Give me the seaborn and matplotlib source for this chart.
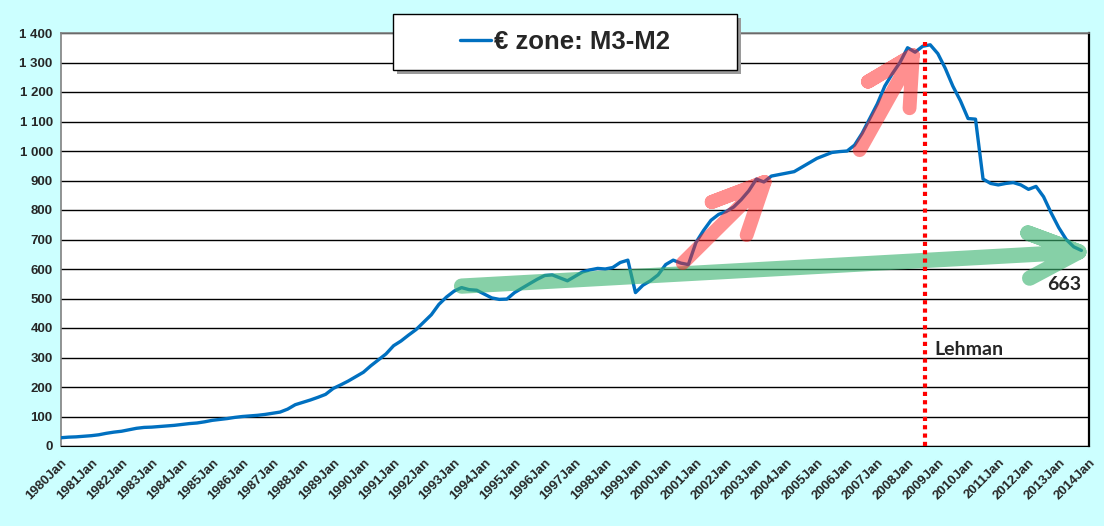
import pandas as pd
import matplotlib
matplotlib.use("Agg")
import matplotlib.pyplot as plt
import matplotlib.dates as mdates
from matplotlib.patches import Rectangle
import seaborn as sns

sns.set_style("white")
plt.rcParams['font.family'] = ['Liberation Sans', 'DejaVu Sans']

# ------------------ Data (quarterly: Jan, Apr, Jul, Oct) ------------------
years = list(range(1980, 2014))
m3_m2 = [
    28, 30, 31, 33,          # 1980
    35, 38, 43, 47,          # 1981
    50, 55, 60, 63,          # 1982
    64, 66, 68, 70,          # 1983
    73, 76, 78, 82,          # 1984
    87, 90, 93, 97,          # 1985
    100, 102, 104, 107,      # 1986
    111, 115, 125, 140,      # 1987
    148, 156, 165, 175,      # 1988
    195, 207, 220, 235,      # 1989
    250, 272, 292, 312,      # 1990
    340, 356, 376, 395,      # 1991
    420, 445, 480, 505,      # 1992
    525, 537, 530, 528,      # 1993
    515, 502, 497, 498,      # 1994
    520, 535, 550, 565,      # 1995
    578, 580, 570, 560,      # 1996
    575, 590, 597, 602,      # 1997
    600, 605, 622, 630,      # 1998
    520, 545, 560, 580,      # 1999
    615, 630, 620, 615,      # 2000
    690, 730, 765, 785,      # 2001
    795, 810, 835, 865,      # 2002
    905, 895, 915, 920,      # 2003
    925, 930, 945, 960,      # 2004
    975, 985, 995, 998,      # 2005
    1000, 1020, 1060, 1110,  # 2006
    1160, 1220, 1262, 1300,  # 2007
    1350, 1335, 1355, 1360,  # 2008
    1330, 1280, 1220, 1170,  # 2009
    1110, 1108, 905, 890,    # 2010
    885, 890, 893, 885,      # 2011
    870, 880, 845, 790,      # 2012
    740, 700, 675, 663,      # 2013
]
dates = pd.date_range(f"{years[0]}-01-01", periods=len(m3_m2), freq="QS")
df = pd.DataFrame({"Date": dates, "Value": m3_m2})

lehman_date = pd.Timestamp("2008-08-01")
last_value = m3_m2[-1]

# annotation arrows (date, value): shaft start, tip, arm1 start, arm2 start
green_arrow = [("1993-04-01", 542), ("2013-09-01", 658), ("2011-12-25", 722), ("2012-01-15", 569)]
red_arrow_1 = [("2000-07-25", 620), ("2003-04-10", 895), ("2001-07-10", 827), ("2002-09-05", 715)]
red_arrow_2 = [("2006-06-01", 1003), ("2008-03-05", 1325), ("2006-09-10", 1235), ("2008-01-25", 1145)]

# ------------------ Plot ------------------
fig = plt.figure(figsize=(11.04, 5.26), dpi=100, facecolor="#CCFFFF")
ax = fig.add_axes([61 / 1104, 80 / 526, 1028 / 1104, 413 / 526])
ax.set_facecolor("white")

sns.lineplot(data=df, x="Date", y="Value", ax=ax, color="#0070C0",
             linewidth=2.4, label="€ zone: M3-M2", zorder=3)


def draw_arrow(pts, color, lw, alpha):
    # one path so the translucent stroke is not doubled where segments meet
    start, tip, a1, a2 = [(pd.Timestamp(d), v) for d, v in pts]
    path = [start, tip, a1, tip, a2]
    ax.plot([p[0] for p in path], [p[1] for p in path], color=color, lw=lw,
            alpha=alpha, solid_capstyle="round", solid_joinstyle="round", zorder=4)


draw_arrow(green_arrow, "#3CB371", 11, 0.62)
draw_arrow(red_arrow_1, "#FF2020", 10, 0.5)
draw_arrow(red_arrow_2, "#FF2020", 10, 0.5)

# Lehman line
ax.plot([lehman_date, lehman_date], [0, 1368], color="red", lw=3,
        linestyle=(0, (1, 1)), zorder=5)
ax.text(pd.Timestamp("2008-11-20"), 308, "Lehman", fontsize=14,
        fontweight="bold", family=["Lato", "DejaVu Sans"], ha="left", va="baseline")
ax.text(pd.Timestamp("2013-10-01"), 528, f"{last_value}", fontsize=14,
        fontweight="bold", family=["Lato", "DejaVu Sans"], ha="right", va="baseline")

# axes
ax.set_xlim(pd.Timestamp("1980-01-01"), pd.Timestamp("2014-01-01"))
ax.set_ylim(0, 1400)
ax.set_yticks(range(0, 1401, 100))
ax.set_yticklabels([f"{v:,}".replace(",", " ") for v in range(0, 1401, 100)],
                   fontsize=9.5, fontweight="bold")
ax.yaxis.grid(True, color="black", linewidth=1)
ax.set_axisbelow(True)
ax.tick_params(axis="y", length=0, pad=6)

ax.xaxis.set_major_locator(mdates.YearLocator())
ax.xaxis.set_major_formatter(mdates.DateFormatter("%Y%b"))
ax.xaxis.set_minor_locator(mdates.MonthLocator())
ax.tick_params(axis="x", which="both", direction="out", length=4, width=0.8, color="black")
plt.setp(ax.get_xticklabels(), rotation=45, ha="right", rotation_mode="anchor",
         fontsize=9.5, fontweight="bold")
ax.set_xlabel("")
ax.set_ylabel("")

for side in ("left", "top"):
    ax.spines[side].set_color("#808080")
    ax.spines[side].set_linewidth(1.2)
ax.spines["right"].set_color("black")
ax.spines["right"].set_linewidth(1.6)
ax.spines["bottom"].set_color("black")

# legend box
ax.get_legend().remove()
bx, by, bw, bh = 393 / 1104, 1 - 70 / 526, 344 / 1104, 56 / 526
fig.add_artist(Rectangle((bx + 4 / 1104, by - 4 / 526), bw, bh, transform=fig.transFigure,
                         facecolor="#9a9a9a", edgecolor="none", zorder=3))
fig.add_artist(Rectangle((bx, by), bw, bh, transform=fig.transFigure,
                         facecolor="white", edgecolor="black", lw=1, zorder=3.5))
handles, labels = ax.get_legend_handles_labels()
fig.legend(handles, labels, loc="center", bbox_to_anchor=(bx + bw / 2, by + bh / 2),
           bbox_transform=fig.transFigure, frameon=False, handlelength=1.2,
           handletextpad=0.1, prop={"size": 18.5, "weight": "bold"})

fig.savefig("out.png", dpi=100, facecolor=fig.get_facecolor())
